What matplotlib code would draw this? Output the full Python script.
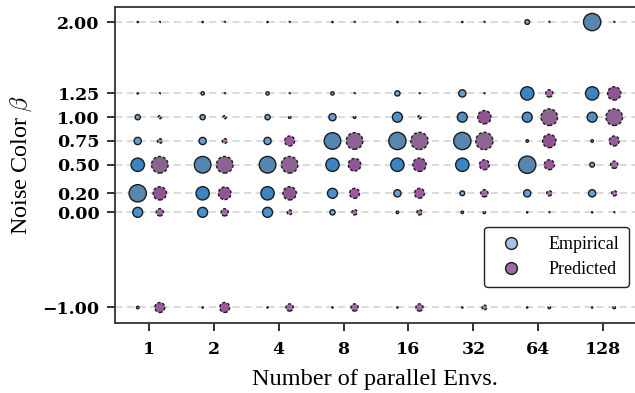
import numpy as np
import matplotlib
matplotlib.use("Agg")
import matplotlib.pyplot as plt
from matplotlib.colors import LinearSegmentedColormap
from matplotlib.lines import Line2D

plt.rcParams['mathtext.fontset'] = 'cm'
plt.rcParams['font.family'] = ['Liberation Serif', 'DejaVu Serif']
plt.rcParams['axes.unicode_minus'] = True

# ---- data ----
envs = ["1", "2", "4", "8", "16", "32", "64", "128"]
betas = [-1.0, 0.0, 0.2, 0.5, 0.75, 1.0, 1.25, 2.0]
beta_labels = ["\u22121.00", "0.00", "0.20", "0.50", "0.75", "1.00", "1.25", "2.00"]

# relative frequency (rows: betas, cols: envs)
empirical = [
    [0.7, 0.2, 0.2, 0.2, 0.0, 0.0, 0.0, 0.0],      # -1.0
    [5.9, 5.9, 5.9, 2.0, 0.7, 0.7, 0.25, 0.25],    # 0.0
    [16, 9.9, 9.9, 5.9, 3.4, 1.7, 3.4, 3.4],       # 0.2
    [9.9, 14.9, 14.9, 9.9, 9.9, 9.9, 16, 1.7],     # 0.5
    [3.4, 3.4, 3.4, 14.9, 16, 16, 0.7, 0.7],       # 0.75
    [2.0, 2.0, 2.0, 3.4, 5.9, 5.9, 5.9, 5.9],      # 1.0
    [0.25, 1.0, 1.0, 1.0, 2.0, 3.4, 9.9, 9.9],     # 1.25
    [0.0, 0.0, 0.0, 0.0, 0.25, 0.25, 1.7, 16],     # 2.0
]
predicted = [
    [5.9, 5.9, 3.4, 3.4, 3.4, 1.7, 0.7, 0.7],      # -1.0
    [3.4, 3.4, 1.7, 2.0, 2.0, 0.7, 0.2, 0.2],      # 0.0
    [9.9, 9.0, 9.9, 5.9, 5.9, 3.4, 2.0, 2.0],      # 0.2
    [14.9, 14.9, 14.9, 9.0, 9.9, 5.9, 5.9, 3.4],   # 0.5
    [1.7, 1.7, 5.9, 14.9, 16, 16, 9.9, 5.9],       # 0.75
    [1.0, 1.0, 0.7, 0.7, 1.0, 9.9, 14.9, 14.9],    # 1.0
    [0.2, 0.2, 0.2, 0.2, 0.2, 0.2, 3.4, 9.9],      # 1.25
    [0.0, 0.0, 0.0, 0.0, 0.0, 0.0, 0.0, 0.0],      # 2.0
]

# ---- styles ----
blue_cmap = LinearSegmentedColormap.from_list(
    "emp", [(0.0, "#a9c8ea"), (2/16, "#74a7d9"), (6/16, "#4a8fcc"),
            (10/16, "#3b85c2"), (13/16, "#4c86b8"), (1.0, "#5886ae")])
purple_cmap = LinearSegmentedColormap.from_list(
    "pred", [(0.0, "#bb92c1"), (2/16, "#a86fac"), (6/16, "#9a5a9e"),
             (10/16, "#8f5491"), (13/16, "#8d5c91"), (1.0, "#8c6590")])

LW = 1.0
def size_of(f):
    f = np.asarray(f, dtype=float)
    d_pt = 0.72 * 4.67 * np.sqrt(f) - LW
    return np.maximum(d_pt, 0.9) ** 2

fig = plt.figure(figsize=(6.35, 3.93), dpi=100)
ax = fig.add_axes([115/635, 70/393, 520/635, 316/393])

xpos = np.arange(len(envs))
off = 0.17
emp = np.array(empirical)
pred = np.array(predicted)
for i, b in enumerate(betas):
    ax.axhline(b, color="#d8d8d8", lw=1.3, ls=(0, (4, 2.5)), zorder=0)
    ax.scatter(xpos - off, np.full(len(envs), b), s=size_of(emp[i]),
               c=blue_cmap(np.clip(emp[i] / 16, 0, 1)),
               edgecolors="#1c1c1c", linewidths=LW, zorder=3)
    ax.scatter(xpos + off, np.full(len(envs), b), s=size_of(pred[i]),
               c=purple_cmap(np.clip(pred[i] / 16, 0, 1)),
               edgecolors="#1c1c1c", linewidths=LW, linestyles=(0, (2.2, 1.4)),
               zorder=3)

ax.set_xlim(-0.52, 7.49)
ax.set_ylim(-1.163, 2.158)
ax.set_xticks(xpos)
ax.set_xticklabels(envs, fontsize=12.5, fontfamily="DejaVu Serif", fontweight="bold")
ax.set_yticks(betas)
ax.set_yticklabels(beta_labels, fontsize=12.5, fontfamily="DejaVu Serif", fontweight="bold")

for sp in ["left", "bottom", "top"]:
    ax.spines[sp].set_color("#333333")
    ax.spines[sp].set_linewidth(1.3)
ax.spines["right"].set_visible(False)
ax.tick_params(axis="both", length=6, width=1.3, color="#222222", pad=5)
ax.tick_params(axis="x", pad=7)

ax.set_xlabel("Number of parallel Envs.", fontsize=17.5, labelpad=8)
ax.set_ylabel(r"Noise Color $\beta$", fontsize=17.5, labelpad=6)

handles = [
    Line2D([], [], marker="o", ls="none", markersize=8.5,
           markerfacecolor="#a3c2e6", markeredgecolor="#1c1c1c", markeredgewidth=1.0,
           label="Empirical"),
    Line2D([], [], marker="o", ls="none", markersize=8.5,
           markerfacecolor="#9d69a6", markeredgecolor="#1c1c1c", markeredgewidth=1.0,
           label="Predicted"),
]
leg = ax.legend(handles=handles, loc="lower right", bbox_to_anchor=(0.988, 0.114),
                borderaxespad=0, fontsize=13, frameon=True, fancybox=True,
                edgecolor="#222222", framealpha=1, handletextpad=1.1,
                borderpad=0.5, labelspacing=0.45)
leg.get_frame().set_linewidth(1.0)

fig.savefig("out.png", dpi=100)
